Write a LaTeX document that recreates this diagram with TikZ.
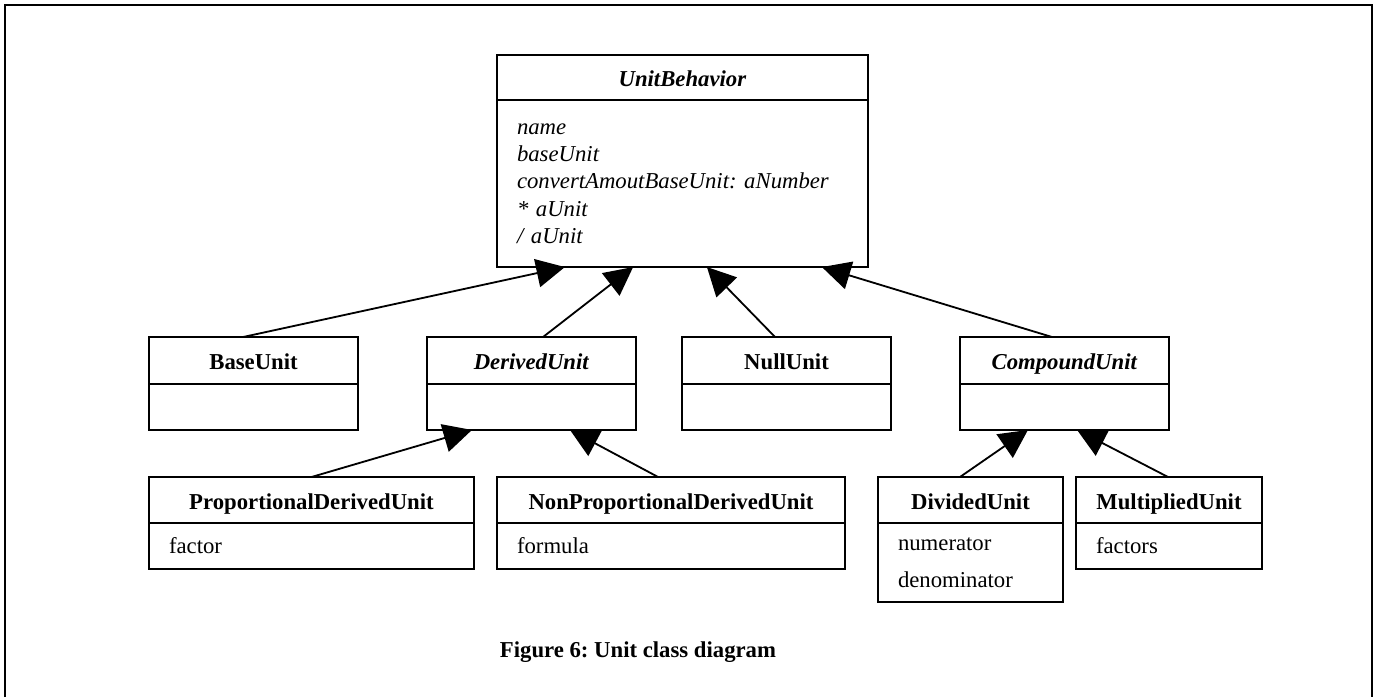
\documentclass[tikz,border=0pt]{standalone}
\usepackage{fontspec}
\setmainfont{Liberation Serif}
\usepackage{tikz}
\usetikzlibrary{positioning,arrows.meta,calc}
\frenchspacing

\begin{document}
\begin{tikzpicture}[x=0.44pt, y=-0.44pt,
        hdr/.style={rectangle, draw, line width=0.8pt, inner sep=0pt, outer sep=0pt, anchor=north west, text height=1em, text depth=0.2em, font=\bfseries},
        attr/.style={rectangle, draw, line width=0.8pt, inner xsep=8.8pt, inner ysep=0pt, outer sep=0pt, align=left},
        isa/.style={draw=black, line width=0.8pt, -{Triangle[length=12.5pt, width=12.5pt]}}
    ]
        \useasboundingbox (0,0) rectangle (1376,697);
        \draw [line width=1pt] (5,697) -- (5,5) -- (1372,5) -- (1372,697);

        % abstract root
        \node [hdr, minimum width=163.2pt, minimum height=19.8pt] (ub) at (497,55) {\textit{UnitBehavior}};
        \node [attr, below=0pt of ub, text width=145.6pt, minimum height=73.5pt, font=\itshape] (ub_attr) {name\\ baseUnit\\ convertAmoutBaseUnit: aNumber\\ {*} aUnit\\ / aUnit\\[-4pt]};
        \draw [line width=1.2pt] (ub_attr.north west) -- (ub_attr.north east);

        % second row
        \node [hdr, minimum width=92pt, minimum height=20.7pt] (base) at (149,337) {BaseUnit};
        \node [attr, below=0pt of base, minimum width=92pt, minimum height=20.2pt] (base_attr) {};
        \node [hdr, minimum width=92pt, minimum height=20.7pt] (derived) at (427,337) {\textit{DerivedUnit}};
        \node [attr, below=0pt of derived, minimum width=92pt, minimum height=20.2pt] (derived_attr) {};
        \node [hdr, minimum width=92pt, minimum height=20.7pt] (null) at (682,337) {NullUnit};
        \node [attr, below=0pt of null, minimum width=92pt, minimum height=20.2pt] (null_attr) {};
        \node [hdr, minimum width=92pt, minimum height=20.7pt] (compound) at (960,337) {\textit{CompoundUnit}};
        \node [attr, below=0pt of compound, minimum width=92pt, minimum height=20.2pt] (compound_attr) {};

        % third row
        \node [hdr, minimum width=143pt, minimum height=20.2pt] (prop) at (149,477) {ProportionalDerivedUnit};
        \node [attr, below=0pt of prop, text width=125.4pt, minimum height=20.2pt] (prop_attr) {factor};
        \node [hdr, minimum width=153.1pt, minimum height=20.2pt] (nonprop) at (497,477) {NonProportionalDerivedUnit};
        \node [attr, below=0pt of nonprop, text width=135.5pt, minimum height=20.2pt] (nonprop_attr) {formula};
        \node [hdr, minimum width=81.4pt, minimum height=20.2pt] (divided) at (878,477) {DividedUnit};
        \node [attr, below=0pt of divided, text width=63.8pt, minimum height=34.8pt] (divided_attr) {numerator\\[4.3pt] denominator};
        \node [hdr, minimum width=81.8pt, minimum height=20.2pt] (mult) at (1076,477) {MultipliedUnit};
        \node [attr, below=0pt of mult, text width=64.2pt, minimum height=20.2pt] (mult_attr) {factors};

        % generalisations
        \draw [isa] ($(base.north west)!0.45!(base.north east)$) -- ($(ub_attr.south west)!0.183!(ub_attr.south east)$);
        \draw [isa] ($(derived.north west)!0.555!(derived.north east)$) -- ($(ub_attr.south west)!0.367!(ub_attr.south east)$);
        \draw [isa] ($(null.north west)!0.445!(null.north east)$) -- ($(ub_attr.south west)!0.566!(ub_attr.south east)$);
        \draw [isa] ($(compound.north west)!0.44!(compound.north east)$) -- ($(ub_attr.south west)!0.876!(ub_attr.south east)$);

        \draw [isa] ($(prop.north west)!0.5!(prop.north east)$) -- ($(derived_attr.south west)!0.215!(derived_attr.south east)$);
        \draw [isa] ($(nonprop.north west)!0.463!(nonprop.north east)$) -- ($(derived_attr.south west)!0.684!(derived_attr.south east)$);
        \draw [isa] ($(divided.north west)!0.443!(divided.north east)$) -- ($(compound_attr.south west)!0.325!(compound_attr.south east)$);
        \draw [isa] ($(mult.north west)!0.495!(mult.north east)$) -- ($(compound_attr.south west)!0.56!(compound_attr.south east)$);

        \node [font=\bfseries] (caption) at (638,652) {Figure 6: Unit class diagram};
    \end{tikzpicture}
\end{document}
